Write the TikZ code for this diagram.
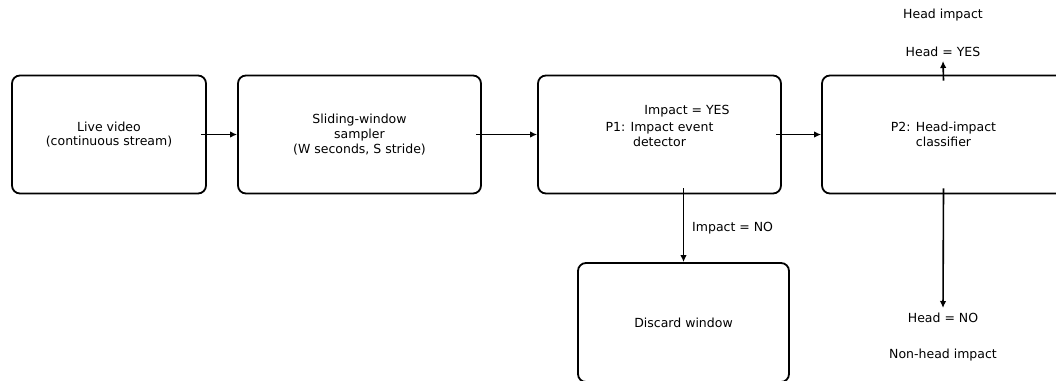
\documentclass[tikz,border=0pt]{standalone}
\usepackage{fontspec}
\setmainfont{DejaVu Sans}
\usetikzlibrary{arrows.meta}
\begin{document}
\begin{tikzpicture}[x=1pt,y=-1pt,
  font=\fontsize{12.5}{14.7}\selectfont,
  proc/.style={draw=black,line width=1.8pt,rounded corners=8pt,minimum height=118pt,align=center,inner sep=0pt},
  arr/.style={line width=1.6pt,-{Latex[length=7pt,width=6.5pt]}},
  lbl/.style={inner sep=0pt,align=center}]
\clip (0,0) rectangle (1056,380);
\fill[white] (0,0) rectangle (1056,380);
\node[proc,minimum width=194pt] (b1) at (109,134.5) {Live video\\(continuous stream)};
\node[proc,minimum width=243pt] (b2) at (359.5,134.5) {Sliding-window\\sampler\\(W seconds, S stride)};
\node[proc,minimum width=243pt] (b3) at (659.5,134.5) {};
\node[lbl] (t3) at (659.5,134.5) {P1: Impact event\\detector};
\node[lbl] (yes1) at (687,111) {Impact = YES};
\node[proc,minimum width=243pt] (b4) at (943.5,134.5) {P2: Head-impact\\classifier};
\node[proc,minimum width=211pt,minimum height=119pt] (b5) at (683.5,322.5) {Discard window};
\draw[arr] ([xshift=-6pt]b1.east) -- (b2.west);
\draw[arr] ([xshift=-6pt]b2.east) -- (b3.west);
\draw[arr] ([xshift=-6pt]b3.east) -- (b4.west);
\draw[arr] ([yshift=6pt]b5.north |- b3.south) -- (b5.north);
\node[lbl,anchor=west] (no1) at (692,228) {Impact = NO};
\coordinate (up) at (943,61);
\coordinate (down) at (943,308);
\draw[arr] ([yshift=-6pt]b4.north) -- (up);
\draw[arr] ([yshift=6pt]b4.south) -- (down);
\node[lbl] (hy) at (943,52) {Head = YES};
\node[lbl] (hi) at (943,15) {Head impact};
\node[lbl] (hn) at (943,318) {Head = NO};
\node[lbl] (nh) at (943,355) {Non-head impact};
\end{tikzpicture}
\end{document}
